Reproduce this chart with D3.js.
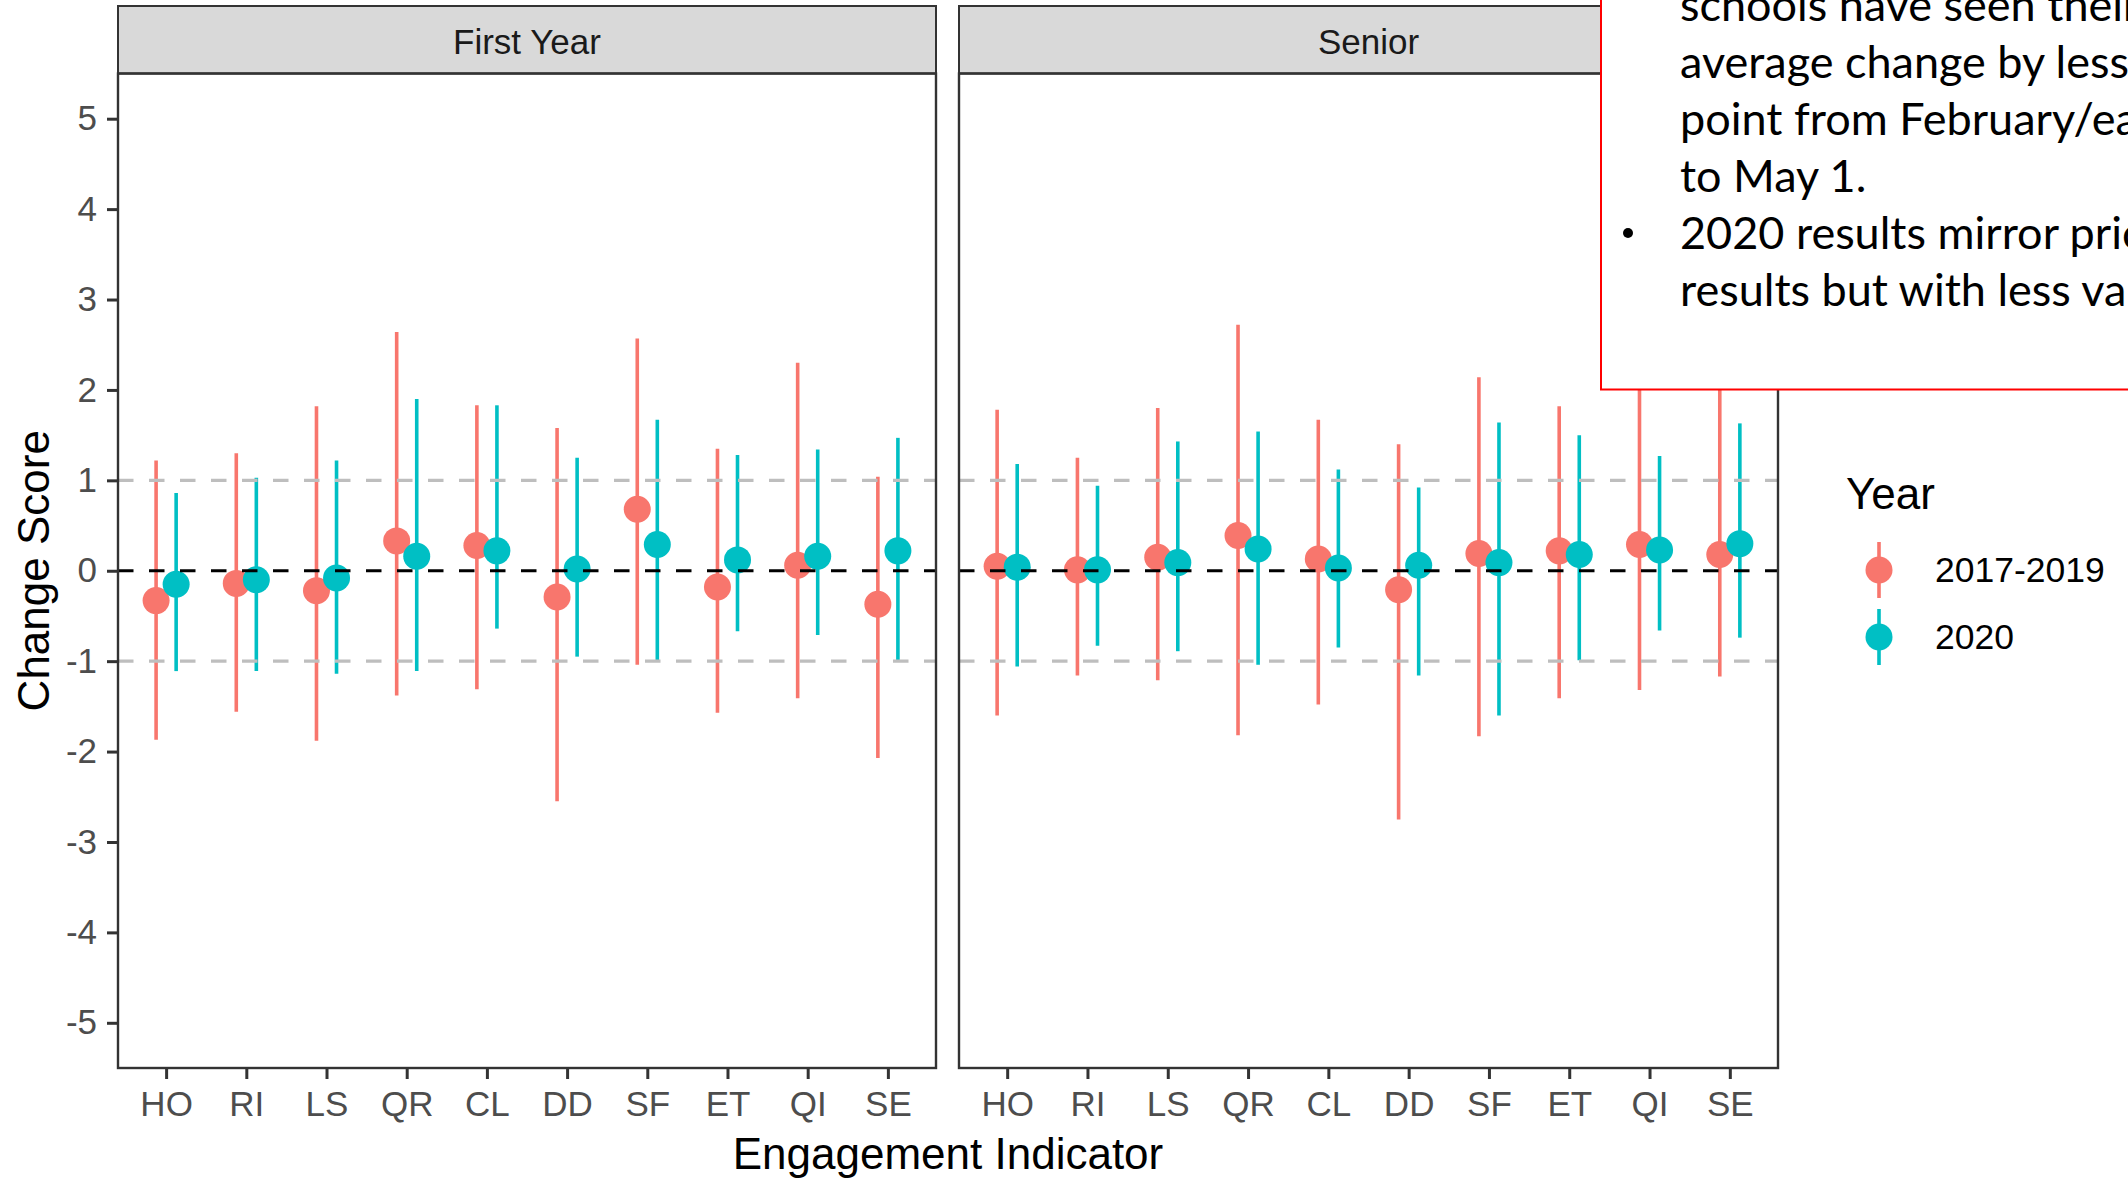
<!DOCTYPE html>
<html>
<head>
<meta charset="utf-8">
<script src="https://cdn.jsdelivr.net/npm/d3@7"></script>
<style>
  body { margin: 0; background: #fff; overflow: hidden; }
  svg { display: block; font-family: "Liberation Sans", Arial, sans-serif; }
</style>
</head>
<body>
<svg id="chart" width="2128" height="1178"></svg>
<script>
// categories
const indicators = ["HO", "RI", "LS", "QR", "CL", "DD", "SF", "ET", "QI", "SE"];
const panels = ["First Year", "Senior"];
const years = ["2017-2019", "2020"];
const yTicks = [-5, -4, -3, -2, -1, 0, 1, 2, 3, 4, 5];

// First Year, 2017-2019
const fyPriorMean = [-0.33, -0.14, -0.22, 0.33, 0.28, -0.29, 0.68, -0.18, 0.06, -0.37];
const fyPriorLow  = [-1.87, -1.56, -1.88, -1.38, -1.31, -2.55, -1.04, -1.57, -1.41, -2.07];
const fyPriorHigh = [1.22, 1.30, 1.82, 2.64, 1.83, 1.58, 2.57, 1.35, 2.30, 1.04];
// First Year, 2020
const fyCovidMean = [-0.15, -0.10, -0.08, 0.16, 0.22, 0.02, 0.29, 0.12, 0.16, 0.22];
const fyCovidLow  = [-1.11, -1.11, -1.14, -1.11, -0.64, -0.95, -1.01, -0.67, -0.71, -0.99];
const fyCovidHigh = [0.86, 1.03, 1.22, 1.90, 1.83, 1.25, 1.67, 1.28, 1.34, 1.47];
// Senior, 2017-2019
const srPriorMean = [0.05, 0.01, 0.15, 0.39, 0.13, -0.21, 0.19, 0.22, 0.29, 0.18];
const srPriorLow  = [-1.60, -1.16, -1.21, -1.82, -1.48, -2.75, -1.83, -1.41, -1.32, -1.17];
const srPriorHigh = [1.78, 1.25, 1.80, 2.72, 1.67, 1.40, 2.14, 1.82, 2.30, 2.40];
// Senior, 2020
const srCovidMean = [0.04, 0.01, 0.09, 0.24, 0.03, 0.06, 0.09, 0.18, 0.23, 0.30];
const srCovidLow  = [-1.06, -0.83, -0.89, -1.04, -0.85, -1.16, -1.60, -0.99, -0.66, -0.74];
const srCovidHigh = [1.18, 0.94, 1.43, 1.54, 1.12, 0.92, 1.64, 1.50, 1.27, 1.63];

// callout text (runs off the slide on the right, as in the original)
const noteLines = [
  {bullet: false, text: "schools have seen their"},
  {bullet: false, text: "average change by less than"},
  {bullet: false, text: "point from February/early March"},
  {bullet: false, text: "to May 1."},
  {bullet: true,  text: "2020 results mirror prior"},
  {bullet: false, text: "results but with less variation"}
];

const series = {
  "First Year": {
    "2017-2019": {mean: fyPriorMean, low: fyPriorLow, high: fyPriorHigh},
    "2020": {mean: fyCovidMean, low: fyCovidLow, high: fyCovidHigh}
  },
  "Senior": {
    "2017-2019": {mean: srPriorMean, low: srPriorLow, high: srPriorHigh},
    "2020": {mean: srCovidMean, low: srCovidLow, high: srCovidHigh}
  }
};

const svg = d3.select("#chart");
const color = d3.scaleOrdinal(years, ["#F8766D", "#00BFC4"]);

const stripTop = 6, stripBottom = 73.5, plotBottom = 1068;
const panelX = d3.scaleOrdinal(panels, [[118, 936], [959, 1778]]);
const y = d3.scaleLinear().domain([-5.5, 5.5]).range([plotBottom, stripBottom]);
const dodge = d3.scaleOrdinal(years, [-0.125, 0.125]);

panels.forEach((p, pi) => {
  const [x0, x1] = panelX(p);
  const x = d3.scalePoint().domain(indicators).range([x0, x1]).padding(0.6);
  const g = svg.append("g");

  // strip
  g.append("rect")
    .attr("x", x0).attr("y", stripTop)
    .attr("width", x1 - x0).attr("height", stripBottom - stripTop)
    .attr("fill", "#d9d9d9").attr("stroke", "#333").attr("stroke-width", 2);
  g.append("text")
    .attr("x", (x0 + x1) / 2).attr("y", (stripTop + stripBottom) / 2 + 2)
    .attr("text-anchor", "middle").attr("dominant-baseline", "central")
    .attr("font-size", 35).attr("fill", "#1a1a1a")
    .text(p);

  // error bars and points
  years.forEach(yr => {
    const s = series[p][yr];
    const cx = i => x(indicators[i]) + dodge(yr) * x.step();
    g.append("g").selectAll("line")
      .data(indicators)
      .join("line")
      .attr("x1", (d, i) => cx(i)).attr("x2", (d, i) => cx(i))
      .attr("y1", (d, i) => y(s.low[i])).attr("y2", (d, i) => y(s.high[i]))
      .attr("stroke", color(yr)).attr("stroke-width", 3.6);
    g.append("g").selectAll("circle")
      .data(indicators)
      .join("circle")
      .attr("cx", (d, i) => cx(i)).attr("cy", (d, i) => y(s.mean[i]))
      .attr("r", 13.5)
      .attr("fill", color(yr));
  });

  // reference lines
  [-1, 1].forEach(v => {
    g.append("line")
      .attr("x1", x0).attr("x2", x1).attr("y1", y(v)).attr("y2", y(v))
      .attr("stroke", "#bebebe").attr("stroke-width", 3.2)
      .attr("stroke-dasharray", "15.5,15.5");
  });
  g.append("line")
    .attr("x1", x0).attr("x2", x1).attr("y1", y(0)).attr("y2", y(0))
    .attr("stroke", "#000").attr("stroke-width", 3.2)
    .attr("stroke-dasharray", "15.5,15.5");

  // panel border
  g.append("rect")
    .attr("x", x0).attr("y", stripBottom)
    .attr("width", x1 - x0).attr("height", plotBottom - stripBottom)
    .attr("fill", "none").attr("stroke", "#333").attr("stroke-width", 2.4);

  // x axis
  const xAxis = g.append("g")
    .attr("transform", `translate(0,${plotBottom})`)
    .call(d3.axisBottom(x).tickSize(11).tickPadding(12));
  xAxis.select(".domain").remove();
  xAxis.selectAll("line").attr("stroke", "#333").attr("stroke-width", 3);
  xAxis.selectAll("text").attr("font-size", 35).attr("fill", "#4d4d4d")
    .attr("font-family", "Liberation Sans, Arial, sans-serif");

  // y axis on first panel only
  if (pi === 0) {
    const yAxis = g.append("g")
      .attr("transform", `translate(${x0},0)`)
      .call(d3.axisLeft(y).tickValues(yTicks).tickFormat(d => String(d))
        .tickSize(11).tickPadding(10));
    yAxis.select(".domain").remove();
    yAxis.selectAll("line").attr("stroke", "#333").attr("stroke-width", 3);
    yAxis.selectAll("text").attr("font-size", 35).attr("fill", "#4d4d4d")
      .attr("font-family", "Liberation Sans, Arial, sans-serif");
  }
});

// axis titles
svg.append("text")
  .attr("x", 948).attr("y", 1153)
  .attr("text-anchor", "middle").attr("dominant-baseline", "central")
  .attr("font-size", 44).attr("fill", "#000")
  .text("Engagement Indicator");
svg.append("text")
  .attr("transform", `translate(33,${(stripBottom + plotBottom) / 2}) rotate(-90)`)
  .attr("text-anchor", "middle").attr("dominant-baseline", "central")
  .attr("font-size", 44).attr("fill", "#000")
  .text("Change Score");

// legend
const legend = svg.append("g");
legend.append("text")
  .attr("x", 1846).attr("y", 493)
  .attr("dominant-baseline", "central")
  .attr("font-size", 44).attr("fill", "#000")
  .text("Year");
const item = legend.selectAll("g.item")
  .data(years)
  .join("g")
  .attr("class", "item")
  .attr("transform", (d, i) => `translate(1879,${570 + i * 67})`);
item.append("line")
  .attr("y1", -28).attr("y2", 28)
  .attr("stroke", d => color(d)).attr("stroke-width", 3.6);
item.append("circle")
  .attr("r", 13.5)
  .attr("fill", d => color(d));
item.append("text")
  .attr("x", 56)
  .attr("dominant-baseline", "central")
  .attr("font-size", 35.5).attr("fill", "#000")
  .text(d => d);

// callout box over the chart
const note = svg.append("g");
note.append("rect")
  .attr("x", 1601).attr("y", -10)
  .attr("width", 600).attr("height", 399.5)
  .attr("fill", "#fff").attr("stroke", "#ff0000").attr("stroke-width", 2);
const lineY = d3.scaleLinear().domain([0, 1]).range([21, 78]);
note.selectAll("text.line")
  .data(noteLines)
  .join("text")
  .attr("class", "line")
  .attr("x", 1680)
  .attr("y", (d, i) => lineY(i))
  .attr("font-family", "Lato, 'Open Sans', sans-serif")
  .attr("font-size", 45).attr("fill", "#000")
  .text(d => d.text);
note.selectAll("circle.bullet")
  .data(noteLines.filter(d => d.bullet))
  .join("circle")
  .attr("class", "bullet")
  .attr("cx", 1628)
  .attr("cy", d => lineY(noteLines.indexOf(d)) - 16)
  .attr("r", 5)
  .attr("fill", "#000");
</script>
</body>
</html>
